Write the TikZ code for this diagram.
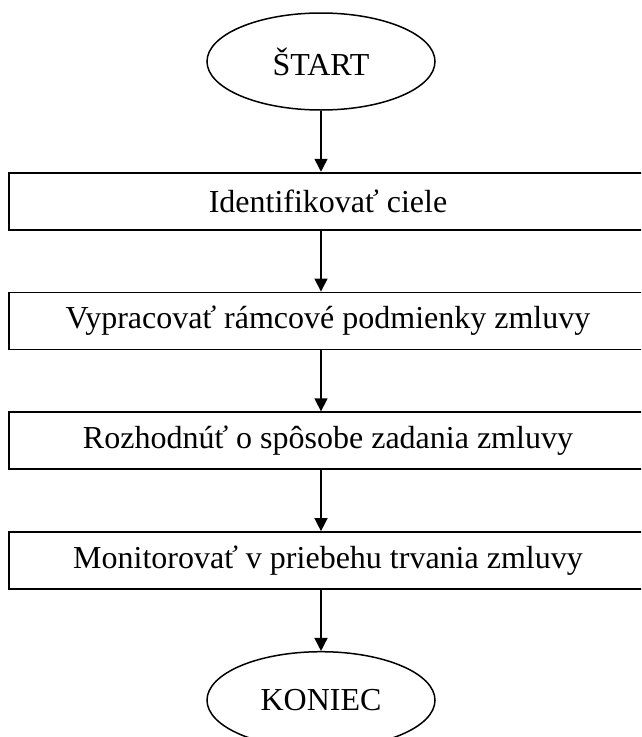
\documentclass[tikz,border=0pt]{standalone}
\usepackage{fontspec}
\setmainfont{Liberation Serif}
\usepackage{tikz}
\usetikzlibrary{positioning,shapes,arrows.meta}

\begin{document}
\begin{tikzpicture}[x=1pt,y=1pt,
    every node/.style={font=\fontsize{32}{38}\selectfont},
    term/.style={ellipse,draw,line width=1.5pt,minimum width=228pt,minimum height=97pt,inner sep=0pt},
    krok/.style={rectangle,draw,line width=1.8pt,minimum width=638pt,minimum height=57pt,inner sep=0pt},
    sipka/.style={-{Triangle[length=13pt,width=13pt]},line width=1.5pt}]
    \useasboundingbox (0,0) rectangle (641,-737);
    \clip (0,0) rectangle (641,-737);
    \node[term] (start) at (321,-61.5) {ŠTART};
    \node[krok, below=61pt of start, xshift=7pt] (ciele) {Identifikovať ciele};
    \node[krok, below=61pt of ciele] (ramec) {Vypracovať rámcové podmienky zmluvy};
    \node[krok, below=61pt of ramec] (sposob) {Rozhodnúť o spôsobe zadania zmluvy};
    \node[krok, below=61pt of sposob] (monitor) {Monitorovať v priebehu trvania zmluvy};
    \coordinate (k) at (start |- monitor.south);
    \node[term, below=61pt of k] (koniec) {KONIEC};

    \draw[sipka] (start.south) -- (start.south |- ciele.north);
    \draw[sipka] (ciele.south -| start) -- (ramec.north -| start);
    \draw[sipka] (ramec.south -| start) -- (sposob.north -| start);
    \draw[sipka] (sposob.south -| start) -- (monitor.north -| start);
    \draw[sipka] (k) -- (koniec.north);
\end{tikzpicture}
\end{document}
